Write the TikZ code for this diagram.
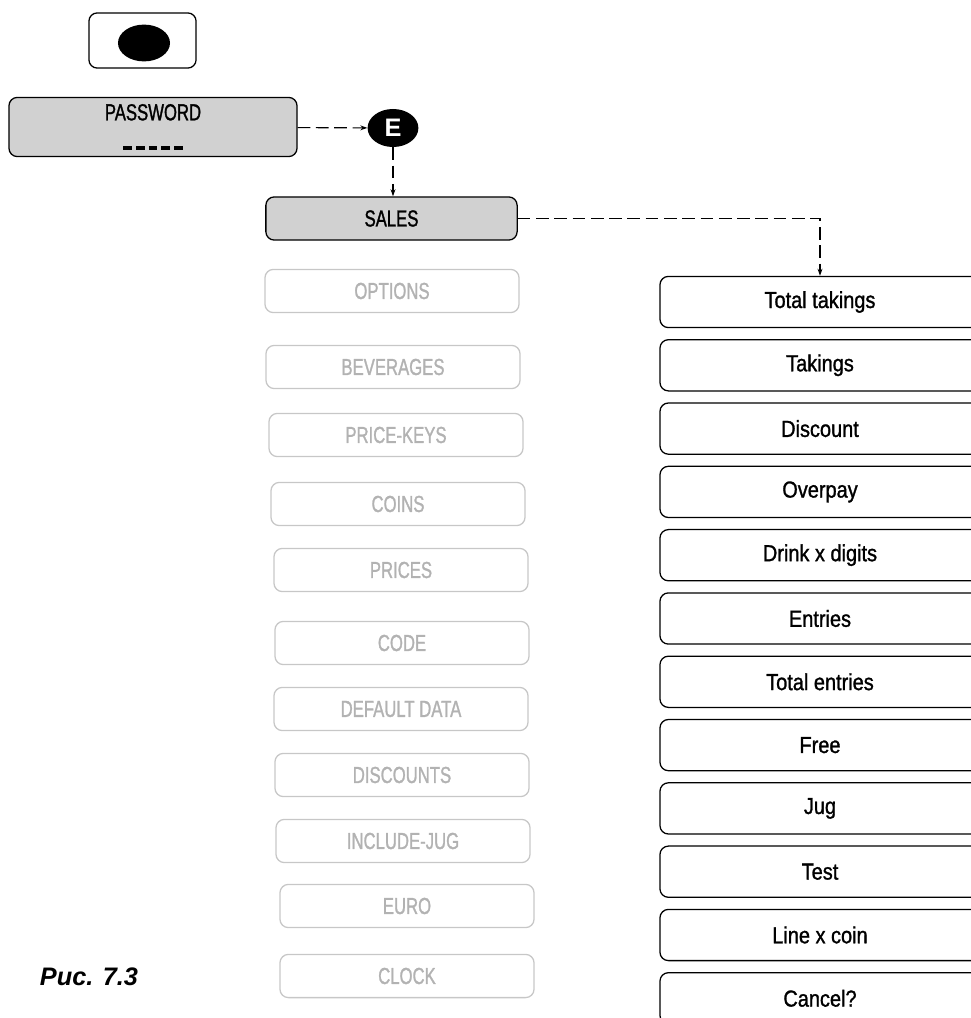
\documentclass[tikz,border=0pt]{standalone}
\usepackage{fontspec}
\setmainfont{Liberation Sans}
\newfontfamily\capsfont{Liberation Sans}[FakeStretch=0.72, FakeBold=1.2]
\newfontfamily\itemfont{Liberation Sans}[FakeStretch=0.86, FakeBold=1.2]
\usetikzlibrary{shapes.geometric, arrows.meta, positioning}
\newcommand\pwdash{\rule{6pt}{2.6pt}}

\begin{document}
\begin{tikzpicture}[x=0.025cm, y=-0.025cm,
    menu/.style={draw, line width=0.9pt, rounded corners=6pt, inner sep=0pt},
    active/.style={menu, fill=black!18, font=\capsfont\fontsize{16.5}{18}\selectfont},
    inactive/.style={menu, draw=black!22, text=black!30, minimum width=6.35cm, minimum height=1.08cm, font=\capsfont\fontsize{16.5}{18}\selectfont},
    item/.style={menu, minimum width=8cm, minimum height=1.28cm, font=\itemfont\fontsize{16.5}{18}\selectfont},
    flow/.style={-{Stealth[length=5pt,width=3.5pt]}, dash pattern=on 9pt off 4pt, line width=0.8pt}]
  \useasboundingbox (0,0) rectangle (971,1018);

  % on/off key
  \node[menu, minimum width=2.68cm, minimum height=1.38cm] (onoff) at (142.5,40.5) {};
  \node[ellipse, fill, minimum width=1.3cm, minimum height=0.92cm] (onoffdot) at (144,43) {};

  % password and enter
  \node[active, minimum width=7.2cm, minimum height=1.48cm, align=center] (password) at (153,127)
    {PASSWORD\\[3pt]\pwdash\hspace{3pt}\pwdash\hspace{3pt}\pwdash\hspace{3pt}\pwdash\hspace{3pt}\pwdash};
  \node[ellipse, fill, text=white, font=\bfseries\fontsize{18}{20}\selectfont, minimum width=1.27cm, minimum height=0.95cm, inner sep=0pt] (enter) at (393,128) {E};
  \node[active, minimum width=6.28cm, minimum height=1.08cm] (sales) at (391.5,218.5) {SALES};

  % inactive menu column
  \foreach \txt/\px/\py [count=\i] in {OPTIONS/392/291, BEVERAGES/393/367, PRICE-KEYS/396/435,
      COINS/398/504, PRICES/401/570, CODE/402/643, DEFAULT DATA/401/709, DISCOUNTS/402/775,
      INCLUDE-JUG/403/841, EURO/407/906, CLOCK/407/976}
    \node[inactive] (menu\i) at (\px,\py) {\txt};

  % sales items
  \foreach \txt [count=\i] in {Total takings, Takings, Discount, Overpay, Drink x digits, Entries,
      Total entries, Free, Jug, Test, Line x coin, Cancel?}
    \node[item] (item\i) at (820,{302+63.3*(\i-1)}) {\txt};

  \node[font=\bfseries\itshape\fontsize{18}{20}\selectfont] (caption) at (89,977) {Рис. 7.3};

  \draw[flow] (password) -- (enter);
  \draw[flow] (enter) -- (enter |- sales.north);
  \draw[flow] (sales.east) -| (item1.north);
\end{tikzpicture}
\end{document}
